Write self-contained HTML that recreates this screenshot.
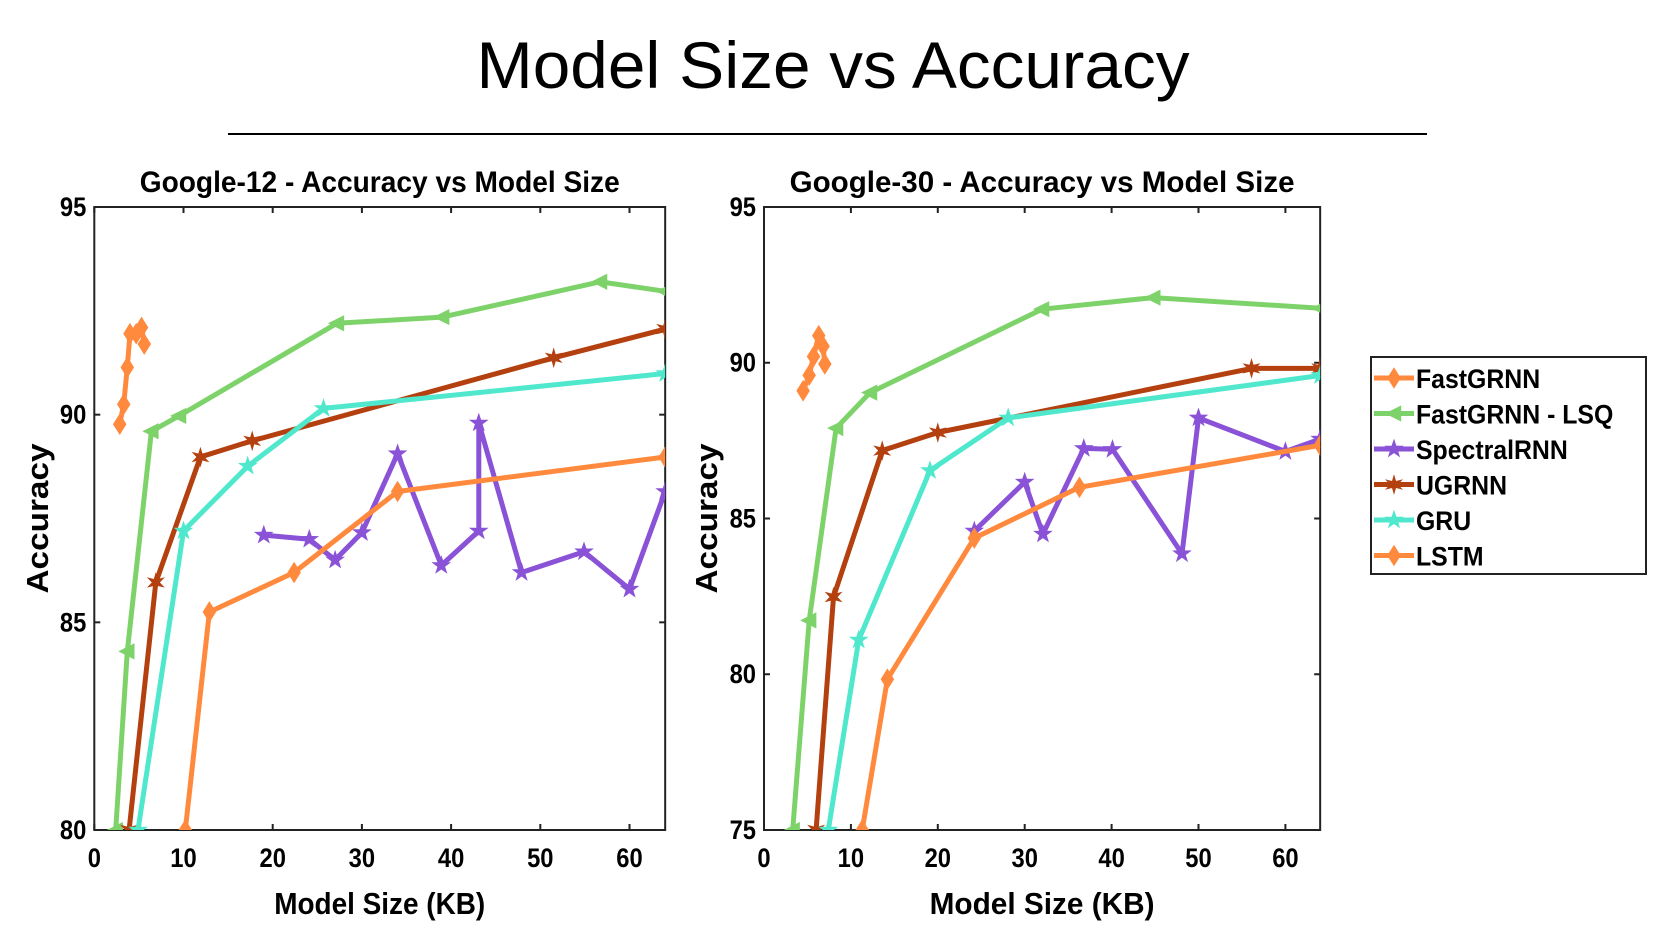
<!DOCTYPE html>
<html><head><meta charset="utf-8"><style>
html,body{margin:0;padding:0;background:#fff;}
svg{display:block;font-family:"Liberation Sans",Arial,sans-serif;}
</style></head><body>
<svg id="chart" width="1655" height="931" viewBox="0 0 1655 931">
<text x="833" y="88" text-anchor="middle" font-size="66" textLength="713" lengthAdjust="spacingAndGlyphs">Model Size vs Accuracy</text>
<line x1="228" y1="134" x2="1427" y2="134" stroke="#000" stroke-width="2"/>
</svg>
<script>
const colors = {FastGRNN:'#ff8a3d', LSQ:'#7dd36a', Spectral:'#8a52d6', UGRNN:'#b3400e', GRU:'#4fe8cd', LSTM:'#ff8a3d'};
const seriesNames = ['FastGRNN','FastGRNN - LSQ','SpectralRNN','UGRNN','GRU','LSTM'];
const seriesKeys = ['FastGRNN','LSQ','Spectral','UGRNN','GRU','LSTM'];
const markers = ['diamond','tri','star','star6','star','diamond'];
const xTicks = [0,10,20,30,40,50,60];
const yTicksG12 = [80,85,90,95];
const yTicksG30 = [75,80,85,90,95];

// Google-12 data
const g12_FastGRNN_x = [2.85,3.3,3.7,4.0,4.7,5.3,5.6];
const g12_FastGRNN_y = [89.77,90.25,91.14,91.95,91.95,92.1,91.7];
const g12_LSQ_x = [2.4,3.7,6.4,9.5,27.2,39,56.7,64];
const g12_LSQ_y = [80,84.3,89.6,89.97,92.2,92.35,93.2,92.97];
const g12_UGRNN_x = [3.9,6.9,11.9,17.7,51.5,64];
const g12_UGRNN_y = [80,85.96,88.98,89.37,91.37,92.06];
const g12_GRU_x = [4.9,10,17.2,25.7,64];
const g12_GRU_y = [80,87.2,88.76,90.15,90.99];
const g12_LSTM_x = [10.2,12.9,22.4,34,64];
const g12_LSTM_y = [80,85.25,86.2,88.15,88.98];
const g12_Spectral_x = [19,24.1,27,30,34,38.9,43.1,43.1,47.9,54.9,60,64];
const g12_Spectral_y = [87.1,87.0,86.5,87.16,89.06,86.37,87.2,89.8,86.2,86.7,85.8,88.15];

// Google-30 data
const g30_FastGRNN_x = [4.5,5.2,5.7,6.3,6.8,7.0];
const g30_FastGRNN_y = [89.1,89.6,90.2,90.87,90.53,89.96];
const g30_LSQ_x = [3.3,5.2,8.3,12.2,32,44.8,64];
const g30_LSQ_y = [75,81.73,87.9,89.04,91.72,92.09,91.75];
const g30_UGRNN_x = [6,8,13.6,20,56.1,64];
const g30_UGRNN_y = [75,82.48,87.18,87.76,89.82,89.82];
const g30_GRU_x = [7.4,10.9,19.1,28.1,64];
const g30_GRU_y = [75,81.1,86.54,88.23,89.59];
const g30_LSTM_x = [11.3,14.2,24.2,36.3,64];
const g30_LSTM_y = [75,79.84,84.37,86.0,87.35];
const g30_Spectral_x = [24.2,30,32.1,36.8,40.1,48.1,50,60,64];
const g30_Spectral_y = [84.6,86.17,84.5,87.25,87.22,83.87,88.23,87.15,87.55];

const NS='http://www.w3.org/2000/svg';
const svg=document.getElementById('chart');
function mk(tag,attrs,parent){const e=document.createElementNS(NS,tag);for(const k in attrs)e.setAttribute(k,attrs[k]);(parent||svg).appendChild(e);return e;}

function markerPath(type,cx,cy,r){
  if(type==='diamond') return `M${cx},${cy-r*1.2} L${cx+r*0.75},${cy} L${cx},${cy+r*1.2} L${cx-r*0.75},${cy} Z`;
  if(type==='tri') return `M${cx-r},${cy} L${cx+r*0.8},${cy-r*0.9} L${cx+r*0.8},${cy+r*0.9} Z`;
  const n= type==='star6'?6:5; let d='';
  for(let i=0;i<n*2;i++){const a=-Math.PI/2+i*Math.PI/n;const rr=i%2?r*0.45:r*1.15;d+=(i?'L':'M')+(cx+rr*Math.cos(a)).toFixed(1)+','+(cy+rr*Math.sin(a)).toFixed(1);}
  return d+'Z';
}

function drawPanel(id,box,xmax,ymin,ymax,yTicks,title,data){
  const g=mk('g',{});
  
  
  const xs=v=>box.x0+(v/10)*box.unit;
  const ys=v=>box.b-(v-ymin)/(ymax-ymin)*(box.b-box.t);
  const right=xs(xmax);
  const cp=mk('clipPath',{id:id+'-clip'},g);
  mk('rect',{x:box.x0,y:box.t,width:right-box.x0,height:box.b-box.t},cp);
  const frame=mk('rect',{x:box.x0,y:box.t,width:right-box.x0,height:box.b-box.t,fill:'none',stroke:'#222','stroke-width':2},g);
  
  
  xTicks.forEach(t=>{
    const x=xs(t);
    mk('line',{x1:x,y1:box.b,x2:x,y2:box.b-6,stroke:'#222','stroke-width':2},g);
    mk('line',{x1:x,y1:box.t,x2:x,y2:box.t+6,stroke:'#222','stroke-width':2},g);
    const tx=mk('text',{x:x,y:box.b+37,'text-anchor':'middle','font-size':27,'font-weight':'bold',transform:`translate(${x} 0) scale(0.88 1) translate(${-x} 0)`},g);
    tx.textContent=t;
    
    
  });
  yTicks.forEach(t=>{
    const y=ys(t);
    mk('line',{x1:box.x0,y1:y,x2:box.x0+6,y2:y,stroke:'#222','stroke-width':2},g);
    mk('line',{x1:right,y1:y,x2:right-6,y2:y,stroke:'#222','stroke-width':2},g);
    const ty=mk('text',{x:box.x0-8,y:y+9,'text-anchor':'end','font-size':27,'font-weight':'bold',transform:`translate(${box.x0-8} 0) scale(0.88 1) translate(${-(box.x0-8)} 0)`},g);
    ty.textContent=t;
    
    
  });
  const tt=mk('text',{x:(box.x0+right)/2,y:box.t-15,'text-anchor':'middle','font-size':30,'font-weight':'bold',textLength:box.tw,lengthAdjust:'spacingAndGlyphs'},g);
  tt.textContent=title;
  
  
  const xl=mk('text',{x:(box.x0+right)/2,y:box.b+84,'text-anchor':'middle','font-size':31,'font-weight':'bold',textLength:box.xw,lengthAdjust:'spacingAndGlyphs'},g);
  xl.textContent='Model Size (KB)';
  
  
  const cy=(box.t+box.b)/2;
  const yl=mk('text',{x:box.lx,y:cy,'text-anchor':'middle','font-size':31,'font-weight':'bold',textLength:150,lengthAdjust:'spacingAndGlyphs',transform:`rotate(-90 ${box.lx} ${cy})`},g);
  yl.textContent='Accuracy';
  
  
  const sg=mk('g',{'clip-path':`url(#${id}-clip)`},g);
  data.forEach((s,i)=>{
    const k=seriesKeys[i];
    const pts=s.x.map((v,j)=>xs(v).toFixed(1)+','+ys(s.y[j]).toFixed(1)).join(' ');
    const pl=mk('polyline',{points:pts,fill:'none',stroke:colors[k],'stroke-width':5,'stroke-linejoin':'round'},sg);
    
    
    s.x.forEach((v,j)=>{
      const m=mk('path',{d:markerPath(markers[i],xs(v),ys(s.y[j]),9),fill:colors[k]},sg);
      
      
    });
  });
}

drawPanel('google12',{x0:94.3,unit:89.2,t:207,b:830,lx:48,tw:480,xw:211},64,80,95,yTicksG12,'Google-12 - Accuracy vs Model Size',[
 {x:g12_FastGRNN_x,y:g12_FastGRNN_y},{x:g12_LSQ_x,y:g12_LSQ_y},{x:g12_Spectral_x,y:g12_Spectral_y},
 {x:g12_UGRNN_x,y:g12_UGRNN_y},{x:g12_GRU_x,y:g12_GRU_y},{x:g12_LSTM_x,y:g12_LSTM_y}]);
drawPanel('google30',{x0:764,unit:86.9,t:207,b:830,lx:717,tw:505,xw:225},64,75,95,yTicksG30,'Google-30 - Accuracy vs Model Size',[
 {x:g30_FastGRNN_x,y:g30_FastGRNN_y},{x:g30_LSQ_x,y:g30_LSQ_y},{x:g30_Spectral_x,y:g30_Spectral_y},
 {x:g30_UGRNN_x,y:g30_UGRNN_y},{x:g30_GRU_x,y:g30_GRU_y},{x:g30_LSTM_x,y:g30_LSTM_y}]);

// legend
const lg=mk('g',{});


mk('rect',{x:1371,y:357,width:275,height:217,fill:'#fff',stroke:'#222','stroke-width':2},lg);
seriesNames.forEach((n,i)=>{
  const y=378+i*35.5, k=seriesKeys[i];
  const e=mk('g',{},lg);
  
  
  mk('line',{x1:1374,y1:y,x2:1414,y2:y,stroke:colors[k],'stroke-width':5},e);
  mk('path',{d:markerPath(markers[i],1394,y,9),fill:colors[k]},e);
  const t=mk('text',{x:1416,y:y+10,'font-size':27,'font-weight':'bold',transform:'translate(1416 0) scale(0.92 1) translate(-1416 0)'},e);
  t.textContent=n;
});
</script>
</body></html>
